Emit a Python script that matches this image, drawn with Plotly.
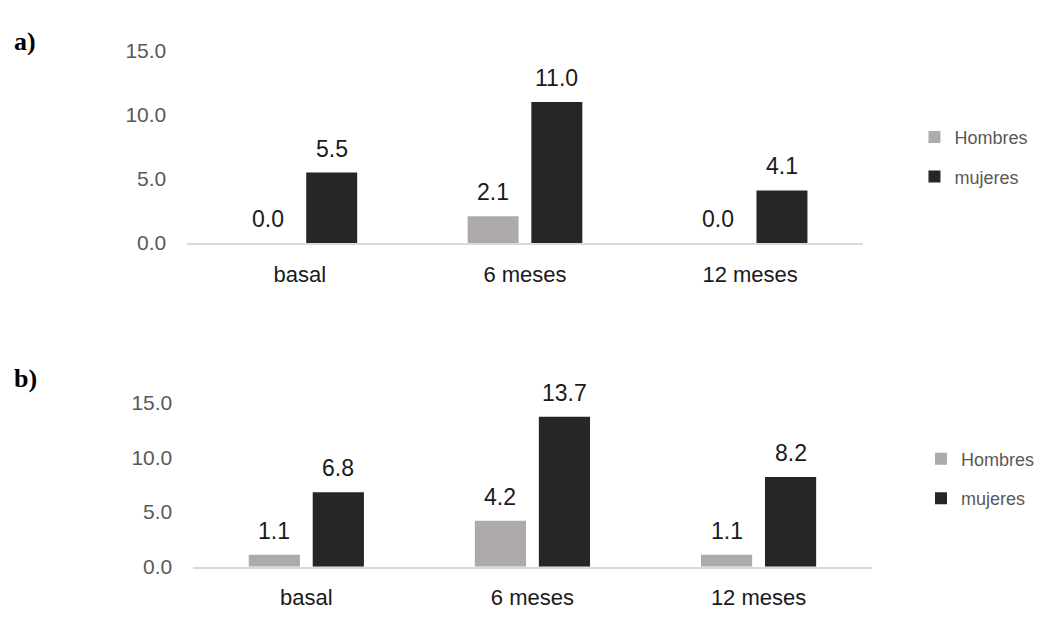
import plotly.graph_objects as go

# Categories and series values
categories = ["basal", "6 meses", "12 meses"]
series_names = ["Hombres", "mujeres"]
panel_a_hombres = [0.0, 2.1, 0.0]
panel_a_mujeres = [5.5, 11.0, 4.1]
panel_b_hombres = [1.1, 4.2, 1.1]
panel_b_mujeres = [6.8, 13.7, 8.2]
y_tick_vals = [0, 5, 10, 15]
y_tick_text = ["0.0", "5.0", "10.0", "15.0"]
panel_labels = ["a)", "b)"]

COLORS = {"Hombres": "#aeaaaa", "mujeres": "#262626"}
FONT = "Liberation Sans, Arial, sans-serif"
BARGAP = 0.434
BARGROUPGAP = 0.2

fig = go.Figure()

panels = [
    ("x", "y", "legend", [panel_a_hombres, panel_a_mujeres]),
    ("x2", "y2", "legend2", [panel_b_hombres, panel_b_mujeres]),
]

annotations = []
half_slot = (1 - BARGAP) / 4  # offset of each bar centre from its category centre
for xa, ya, leg, values in panels:
    for k, (name, vals) in enumerate(zip(series_names, values)):
        fig.add_trace(go.Bar(
            x=categories, y=vals, name=name,
            marker=dict(color=COLORS[name], line=dict(width=0)),
            xaxis=xa, yaxis=ya, legend=leg, legendgroup=f"{leg}-{name}",
            hoverinfo="skip",
        ))
        sign = -1 if k == 0 else 1
        for i, v in enumerate(vals):
            annotations.append(dict(
                x=i + sign * half_slot, y=v, xref=xa, yref=ya,
                text=f"{v:.1f}", showarrow=False,
                xanchor="center", yanchor="bottom", yshift=9,
                font=dict(family=FONT, size=23, color="#1a1a1a"),
            ))

# Panel letters
for label, ypix in zip(panel_labels, [31, 381]):
    annotations.append(dict(
        x=12 / 1040, y=1 - ypix / 622, xref="paper", yref="paper",
        text=f"<b>{label}</b>", showarrow=False, xanchor="left", yanchor="middle",
        font=dict(family="Liberation Serif, Times New Roman, serif", size=26, color="#000000"),
    ))

x_common = dict(
    type="category", showline=True, linecolor="#d9d9d9", linewidth=2,
    showgrid=False, zeroline=False, ticks="", ticklabelstandoff=10,
    tickfont=dict(family=FONT, size=22, color="#1a1a1a"), fixedrange=True,
)
y_common = dict(
    range=[0, 15], tickvals=y_tick_vals, ticktext=y_tick_text,
    showline=False, showgrid=False, zeroline=False, ticks="",
    ticklabelstandoff=20,
    tickfont=dict(family=FONT, size=21, color="#595959"), fixedrange=True,
)

legend_common = dict(
    font=dict(family=FONT, size=18, color="#595959"),
    bgcolor="rgba(0,0,0,0)", borderwidth=0, tracegroupgap=13,
    xanchor="left", yanchor="top", orientation="v",
)

fig.update_layout(
    width=1040, height=622,
    margin=dict(l=0, r=0, t=0, b=0),
    paper_bgcolor="white", plot_bgcolor="white",
    barmode="group", bargap=BARGAP, bargroupgap=BARGROUPGAP,
    xaxis=dict(domain=[188 / 1040, 866 / 1040], anchor="y", **x_common),
    yaxis=dict(domain=[1 - 240 / 622, 1 - 40 / 622], anchor="x", **y_common),
    xaxis2=dict(domain=[194 / 1040, 875 / 1040], anchor="y2", **x_common),
    yaxis2=dict(domain=[1 - 576 / 622, 1 - 405.5 / 622], anchor="x2", **y_common),
    legend=dict(x=918 / 1040, y=1 - 111 / 622, **legend_common),
    legend2=dict(x=925 / 1040, y=1 - 445 / 622, **legend_common),
    annotations=annotations,
    showlegend=True,
)

fig.write_html("out.html")
